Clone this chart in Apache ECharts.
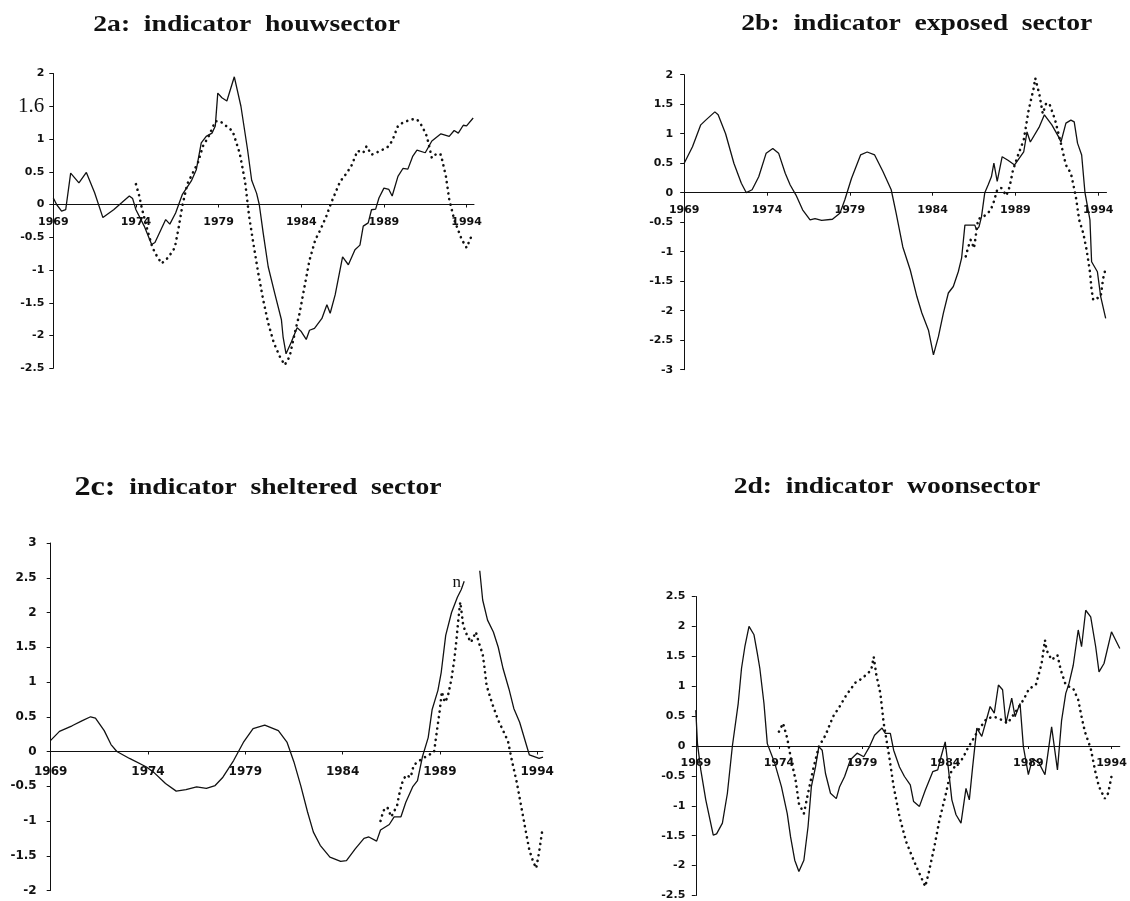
<!DOCTYPE html>
<html>
<head>
<meta charset="utf-8">
<script src="https://cdn.jsdelivr.net/npm/echarts@6/dist/echarts.min.js"></script>
<style>
html,body{margin:0;padding:0;background:#fff;}
#chart{width:1130px;height:901px;}
</style>
</head>
<body>
<div id="chart"></div>
<script>
// ---------- DATA ----------
const aXTicks = [1969, 1974, 1979, 1984, 1989, 1994];
const titles = ['2a:  indicator  houwsector', '2b:  indicator  exposed  sector', '2c:  indicator  sheltered  sector', '2d:  indicator  woonsector'];
const aYTickLabels = ['-2.5','-2','-1.5','-1','-0.5','0','0.5','1','1.6','2'];

// 2a houwsector
const aSolid = [[1969.0,0.1],[1969.2,0.0],[1969.5,-0.1],[1969.75,-0.08],[1970.05,0.48],[1970.55,0.33],[1971.0,0.49],[1971.5,0.18],[1972.0,-0.2],[1972.65,-0.08],[1973.15,0.03],[1973.6,0.13],[1973.8,0.09],[1974.0,-0.08],[1974.5,-0.33],[1974.95,-0.61],[1975.15,-0.58],[1975.8,-0.23],[1976.05,-0.3],[1976.4,-0.13],[1976.8,0.15],[1977.35,0.36],[1977.65,0.53],[1977.95,0.94],[1978.25,1.04],[1978.6,1.09],[1978.8,1.2],[1978.95,1.7],[1979.2,1.63],[1979.5,1.58],[1979.95,1.95],[1980.35,1.5],[1980.75,0.84],[1981.0,0.37],[1981.3,0.17],[1981.46,0],[1981.7,-0.44],[1982.0,-0.95],[1982.4,-1.36],[1982.8,-1.76],[1982.9,-2.02],[1983.08,-2.28],[1983.4,-2.1],[1983.75,-1.88],[1984.0,-1.94],[1984.3,-2.06],[1984.5,-1.92],[1984.8,-1.89],[1985.25,-1.74],[1985.55,-1.53],[1985.75,-1.66],[1986.05,-1.38],[1986.5,-0.8],[1986.85,-0.92],[1987.25,-0.69],[1987.55,-0.62],[1987.75,-0.33],[1988.05,-0.28],[1988.25,-0.08],[1988.5,-0.07],[1988.7,0.1],[1989.0,0.25],[1989.3,0.23],[1989.5,0.13],[1989.85,0.43],[1990.15,0.55],[1990.45,0.54],[1990.75,0.74],[1991.0,0.83],[1991.5,0.79],[1991.9,0.97],[1992.45,1.08],[1992.95,1.04],[1993.25,1.13],[1993.5,1.09],[1993.8,1.21],[1994.0,1.2],[1994.4,1.32]];
const aDotted = [[1974.0,0.31],[1974.2,0.13],[1974.35,-0.05],[1974.7,-0.4],[1975.0,-0.66],[1975.25,-0.78],[1975.55,-0.9],[1975.95,-0.81],[1976.35,-0.66],[1976.6,-0.33],[1976.8,-0.03],[1977.1,0.31],[1977.75,0.64],[1978.05,0.89],[1978.4,1.04],[1978.8,1.27],[1979.1,1.27],[1979.6,1.17],[1979.85,1.12],[1980.28,0.78],[1980.6,0.35],[1980.85,-0.19],[1981.1,-0.59],[1981.4,-1.05],[1981.7,-1.46],[1982.0,-1.81],[1982.35,-2.12],[1982.7,-2.32],[1983.0,-2.45],[1983.3,-2.32],[1983.6,-1.97],[1983.9,-1.66],[1984.2,-1.25],[1984.5,-0.85],[1984.85,-0.54],[1985.15,-0.39],[1985.5,-0.19],[1985.8,0.02],[1986.05,0.17],[1986.35,0.35],[1986.75,0.48],[1987.05,0.6],[1987.4,0.82],[1987.75,0.79],[1987.95,0.89],[1988.25,0.76],[1988.7,0.81],[1989.2,0.87],[1989.5,0.97],[1989.85,1.2],[1990.15,1.25],[1990.65,1.3],[1991.0,1.3],[1991.3,1.2],[1991.6,1.04],[1991.9,0.71],[1992.2,0.78],[1992.45,0.76],[1992.75,0.43],[1992.95,0.08],[1993.25,-0.23],[1993.7,-0.53],[1994.0,-0.66],[1994.3,-0.48]];

// 2b exposed sector
const bSolid = [[1969.0,0.5],[1969.5,0.78],[1970.0,1.15],[1970.3,1.23],[1970.85,1.37],[1971.05,1.32],[1971.5,1.0],[1972.0,0.5],[1972.45,0.16],[1972.75,0.0],[1973.1,0.05],[1973.5,0.27],[1973.95,0.67],[1974.35,0.75],[1974.7,0.67],[1975.1,0.33],[1975.4,0.13],[1975.75,-0.04],[1976.15,-0.29],[1976.6,-0.46],[1976.9,-0.44],[1977.3,-0.47],[1977.95,-0.45],[1978.4,-0.35],[1978.7,-0.12],[1979.1,0.24],[1979.65,0.64],[1980.05,0.69],[1980.5,0.64],[1981.0,0.36],[1981.5,0.05],[1981.8,-0.35],[1982.2,-0.92],[1982.65,-1.31],[1983.05,-1.76],[1983.35,-2.04],[1983.75,-2.33],[1984.05,-2.75],[1984.35,-2.44],[1984.65,-2.04],[1984.95,-1.7],[1985.25,-1.59],[1985.55,-1.34],[1985.75,-1.11],[1985.95,-0.55],[1986.55,-0.55],[1986.65,-0.63],[1986.8,-0.58],[1986.95,-0.41],[1987.15,0],[1987.35,0.13],[1987.55,0.27],[1987.7,0.5],[1987.9,0.19],[1988.2,0.61],[1988.55,0.55],[1988.95,0.47],[1989.3,0.61],[1989.5,0.69],[1989.7,1.03],[1989.9,0.86],[1990.45,1.12],[1990.75,1.32],[1991.2,1.15],[1991.6,0.95],[1991.75,0.86],[1992.05,1.18],[1992.35,1.23],[1992.55,1.2],[1992.75,0.84],[1993.0,0.64],[1993.2,0.0],[1993.5,-0.46],[1993.6,-1.17],[1993.95,-1.34],[1994.15,-1.76],[1994.45,-2.13]];
const bDotted = [[1986.0,-1.08],[1986.15,-0.92],[1986.3,-0.8],[1986.5,-0.94],[1986.75,-0.45],[1987.1,-0.4],[1987.5,-0.3],[1987.7,-0.15],[1987.9,0.05],[1988.15,0.08],[1988.45,-0.05],[1988.65,0.1],[1988.85,0.38],[1989.2,0.67],[1989.5,0.89],[1989.8,1.4],[1990.1,1.77],[1990.2,1.94],[1990.45,1.66],[1990.65,1.34],[1990.85,1.51],[1991.05,1.51],[1991.4,1.23],[1991.7,0.89],[1992.05,0.47],[1992.35,0.33],[1992.65,-0.07],[1992.85,-0.46],[1993.1,-0.69],[1993.3,-0.97],[1993.5,-1.34],[1993.6,-1.65],[1993.7,-1.82],[1994.15,-1.76],[1994.3,-1.45],[1994.45,-1.28]];

// 2c sheltered sector
const cSolid = [[1969.0,0.16],[1969.45,0.29],[1970.1,0.37],[1970.6,0.44],[1971.05,0.5],[1971.3,0.48],[1971.75,0.3],[1972.1,0.1],[1972.4,0.0],[1973.05,-0.1],[1973.9,-0.22],[1974.3,-0.3],[1974.9,-0.46],[1975.45,-0.57],[1975.95,-0.55],[1976.5,-0.51],[1977.0,-0.53],[1977.45,-0.49],[1977.85,-0.37],[1978.4,-0.13],[1978.9,0.13],[1979.4,0.33],[1980.0,0.38],[1980.7,0.3],[1981.15,0.13],[1981.5,-0.15],[1981.85,-0.49],[1982.2,-0.87],[1982.5,-1.16],[1982.85,-1.35],[1983.35,-1.52],[1983.9,-1.58],[1984.2,-1.57],[1984.65,-1.4],[1985.1,-1.25],[1985.35,-1.23],[1985.75,-1.29],[1985.95,-1.13],[1986.4,-1.05],[1986.65,-0.94],[1987.0,-0.94],[1987.25,-0.73],[1987.6,-0.51],[1987.85,-0.42],[1988.1,-0.08],[1988.4,0.2],[1988.6,0.6],[1988.9,0.88],[1989.07,1.14],[1989.3,1.67],[1989.6,2.0],[1989.9,2.22],[1990.1,2.33],[1990.25,2.45],[1990.6,'-'],[1991.05,2.6],[1991.2,2.18],[1991.45,1.89],[1991.75,1.72],[1992.0,1.5],[1992.25,1.19],[1992.55,0.9],[1992.8,0.62],[1993.1,0.42],[1993.45,0.09],[1993.6,-0.05],[1994.1,-0.1],[1994.3,-0.08]];
const cDotted = [[1985.95,-1.0],[1986.1,-0.85],[1986.3,-0.8],[1986.5,-0.94],[1986.8,-0.78],[1986.9,-0.63],[1987.05,-0.46],[1987.25,-0.34],[1987.5,-0.37],[1987.65,-0.2],[1987.85,-0.15],[1988.35,-0.06],[1988.7,-0.01],[1988.85,0.3],[1989.0,0.6],[1989.1,0.86],[1989.25,0.71],[1989.4,0.78],[1989.6,1.05],[1989.75,1.34],[1989.85,1.6],[1989.95,1.9],[1990.05,2.15],[1990.2,1.81],[1990.4,1.67],[1990.6,1.57],[1990.85,1.72],[1991.0,1.57],[1991.2,1.4],[1991.3,1.19],[1991.4,0.95],[1991.7,0.68],[1992.0,0.45],[1992.25,0.3],[1992.5,0.15],[1992.7,-0.13],[1992.95,-0.44],[1993.2,-0.82],[1993.45,-1.2],[1993.6,-1.42],[1993.8,-1.59],[1993.95,-1.68],[1994.1,-1.45],[1994.25,-1.16]];

// 2d woonsector
const dSolid = [[1969.0,0.6],[1969.1,0.04],[1969.3,-0.4],[1969.6,-0.9],[1970.05,-1.49],[1970.25,-1.47],[1970.6,-1.29],[1970.9,-0.79],[1971.2,0.0],[1971.55,0.71],[1971.75,1.3],[1971.95,1.66],[1972.2,2.0],[1972.5,1.86],[1972.7,1.55],[1972.85,1.3],[1973.1,0.71],[1973.3,0.04],[1973.75,-0.29],[1974.15,-0.68],[1974.5,-1.13],[1974.7,-1.52],[1974.95,-1.91],[1975.2,-2.1],[1975.5,-1.91],[1975.75,-1.35],[1975.95,-0.68],[1976.2,-0.35],[1976.4,-0.01],[1976.6,-0.07],[1976.8,-0.46],[1977.1,-0.79],[1977.45,-0.88],[1977.65,-0.68],[1977.95,-0.51],[1978.3,-0.23],[1978.7,-0.12],[1979.1,-0.18],[1979.45,-0.01],[1979.75,0.18],[1980.2,0.3],[1980.4,0.21],[1980.7,0.21],[1980.9,-0.07],[1981.25,-0.35],[1981.55,-0.51],[1981.9,-0.65],[1982.1,-0.93],[1982.45,-1.01],[1982.8,-0.74],[1983.25,-0.43],[1983.55,-0.4],[1983.75,-0.18],[1984.0,0.07],[1984.2,-0.4],[1984.4,-0.9],[1984.65,-1.15],[1984.95,-1.29],[1985.25,-0.71],[1985.45,-0.9],[1985.65,-0.35],[1985.9,0.3],[1986.2,0.16],[1986.5,0.46],[1986.7,0.66],[1986.95,0.55],[1987.2,1.02],[1987.45,0.94],[1987.65,0.38],[1988.0,0.8],[1988.2,0.49],[1988.5,0.71],[1988.7,-0.01],[1989.0,-0.48],[1989.25,-0.21],[1989.65,-0.29],[1990.0,-0.48],[1990.4,0.32],[1990.75,-0.4],[1991.0,0.43],[1991.25,0.88],[1991.45,1.05],[1991.7,1.35],[1992.0,1.94],[1992.2,1.66],[1992.45,2.27],[1992.75,2.16],[1993.05,1.66],[1993.25,1.24],[1993.55,1.38],[1994.0,1.91],[1994.5,1.63]];
const dDotted = [[1974.0,0.24],[1974.25,0.38],[1974.5,0.13],[1974.7,-0.18],[1975.0,-0.57],[1975.2,-0.96],[1975.5,-1.13],[1975.75,-0.79],[1976.05,-0.4],[1976.4,-0.01],[1976.8,0.18],[1977.25,0.49],[1977.65,0.66],[1978.05,0.85],[1978.6,1.06],[1979.0,1.13],[1979.55,1.27],[1979.7,1.49],[1979.85,1.2],[1980.1,0.88],[1980.3,0.38],[1980.6,-0.12],[1980.9,-0.68],[1981.25,-1.18],[1981.65,-1.6],[1982.1,-1.91],[1982.4,-2.1],[1982.8,-2.35],[1983.0,-2.13],[1983.35,-1.68],[1983.65,-1.24],[1984.0,-0.85],[1984.3,-0.46],[1984.7,-0.29],[1985.05,-0.21],[1985.35,-0.04],[1985.65,0.1],[1986.0,0.27],[1986.5,0.46],[1986.95,0.49],[1987.45,0.43],[1987.75,0.38],[1988.3,0.6],[1988.7,0.77],[1989.05,0.96],[1989.45,1.02],[1989.8,1.38],[1990.0,1.77],[1990.1,1.6],[1990.4,1.44],[1990.75,1.52],[1990.95,1.27],[1991.25,1.02],[1991.7,0.96],[1992.0,0.77],[1992.2,0.49],[1992.4,0.24],[1992.75,-0.04],[1993.05,-0.46],[1993.25,-0.68],[1993.6,-0.88],[1993.8,-0.79],[1994.0,-0.51]];

// ---------- LAYOUT ----------
const panels = [
  {grid:{left:53.3, top:73.5, width:420.7, height:294.75}, xmax:1994.45, ymin:-2.5, ymax:2, fs:11, xm:12, ym:9, solid:aSolid, dotted:aDotted},
  {grid:{left:684.2, top:74.7, width:422.3, height:295}, xmax:1994.5, ymin:-3, ymax:2, fs:11, xm:12, ym:11, solid:bSolid, dotted:bDotted},
  {grid:{left:50.7, top:543, width:492.3, height:347.5}, xmax:1994.3, ymin:-2, ymax:3, fs:12, xm:14, ym:14, solid:cSolid, dotted:cDotted},
  {grid:{left:695.8, top:596.5, width:424, height:299}, xmax:1994.5, ymin:-2.5, ymax:2.5, fs:11, xm:12, ym:10.5, solid:dSolid, dotted:dDotted}
];
const titlePos = [[246.6,25],[916.8,24],[258,488],[887,487]];

const INK = '#111';
const grids = [], xAxes = [], yAxes = [], series = [];
panels.forEach((p, i) => {
  grids.push(Object.assign({containLabel:false}, p.grid));
  // place the x axis on the zero line (distance from the grid bottom)
  const zeroOffset = -(0 - p.ymin) / (p.ymax - p.ymin) * p.grid.height;
  xAxes.push({
    type:'value', gridIndex:i, min:1969, max:p.xmax, interval:5,
    position:'bottom', offset:zeroOffset,
    axisLine:{show:true, onZero:false, lineStyle:{color:INK, width:1}},
    axisTick:{show:true, length:3, inside:false, customValues:aXTicks, lineStyle:{color:INK}},
    axisLabel:{show:true, customValues:aXTicks, margin:p.xm, fontFamily:'DejaVu Sans', fontWeight:'bold', fontSize:p.fs, color:INK,
      formatter:(v)=> aXTicks.indexOf(Math.round(v*1000)/1000) >= 0 ? String(Math.round(v)) : ''},
    splitLine:{show:false}
  });
  const yax = {
    type:'value', gridIndex:i, min:p.ymin, max:p.ymax, interval:0.5,
    axisLine:{show:true, onZero:false, lineStyle:{color:INK, width:1}},
    axisTick:{show:true, length:4, lineStyle:{color:INK}},
    axisLabel:{margin:p.ym, fontFamily:'DejaVu Sans', fontWeight:'bold', fontSize:p.fs, color:INK},
    splitLine:{show:false}
  };
  if (i === 0) {
    yax.axisLabel.formatter = (v) => {
      const t = aYTickLabels[Math.round((v - p.ymin) / 0.5)];
      return t === '1.6' ? '{s|1.6}' : t;
    };
    yax.axisLabel.rich = {s:{fontFamily:'Liberation Serif', fontWeight:'normal', fontSize:21, color:INK}};
  }
  yAxes.push(yax);
  series.push({
    type:'line', xAxisIndex:i, yAxisIndex:i, data:p.solid, showSymbol:false, symbol:'none',
    connectNulls:false, lineStyle:{color:INK, width:1.3}, z:3
  });
  series.push({
    type:'line', xAxisIndex:i, yAxisIndex:i, data:p.dotted, showSymbol:false, symbol:'none',
    lineStyle:{color:INK, width:2.6, type:[0.1, 5.6], cap:'round'}, z:2
  });
});

const graphics = titles.map((t, i) => {
  const head = t.slice(0, 3), rest = t.slice(3);
  return {
    type:'text', x:titlePos[i][0], y:titlePos[i][1], scaleX:1.15, z:10,
    style:{
      text:'{h|' + head + '}{b|' + rest + '}',
      align:'center', verticalAlign:'middle',
      rich:{
        h:{fontFamily:'Liberation Serif', fontWeight:'bold', fontSize: i===2 ? 28 : 24, fill:INK},
        b:{fontFamily:'Liberation Serif', fontWeight:'bold', fontSize:24, fill:INK}
      }
    }
  };
});
graphics.push({type:'text', x:456.7, y:582.7, z:10, style:{text:'n', fontFamily:'Liberation Serif', fontSize:17, fill:INK, align:'center', verticalAlign:'middle'}});

const chart = echarts.init(document.getElementById('chart'), null, {renderer:'canvas'});
chart.setOption({
  animation:false,
  backgroundColor:'#fff',
  grid:grids, xAxis:xAxes, yAxis:yAxes, series:series, graphic:graphics
});
</script>
</body>
</html>
